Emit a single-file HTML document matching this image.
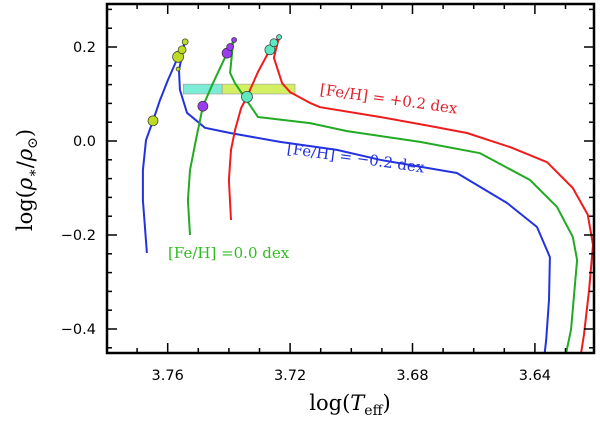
<!DOCTYPE html>
<html><head><meta charset="utf-8"><style>
body{margin:0;background:#fff;width:600px;height:423px;overflow:hidden}
svg{display:block}
.tk{font-family:"DejaVu Sans","Liberation Sans",sans-serif;font-size:14.5px;fill:#000}
.ser{font-family:"DejaVu Serif","Liberation Serif",serif}
</style></head><body>
<svg id="chart" width="600" height="423" viewBox="0 0 600 423">
<defs><clipPath id="clip"><rect x="107" y="4" width="487" height="349"/></clipPath></defs>
<g id="plot" clip-path="url(#clip)"></g>
<g id="axes"></g>
<text x="168" y="258" fill="#33bb22" font-size="15" class="ser">[Fe/H] =0.0 dex</text>
<text transform="translate(388,104) rotate(8)" text-anchor="middle" fill="#e0202a" font-size="15" class="ser">[Fe/H] = +0.2 dex</text>
<text transform="translate(355,163) rotate(8)" text-anchor="middle" fill="#2233dd" font-size="15" class="ser">[Fe/H] = −0.2 dex</text>
<text x="350" y="410" text-anchor="middle" font-size="21" class="ser">log(<tspan font-style="italic">T</tspan><tspan font-size="14" dy="5">eff</tspan><tspan dy="-5">)</tspan></text>
<text transform="translate(32,180) rotate(-90)" text-anchor="middle" font-size="21" class="ser">log(<tspan font-style="italic">ρ</tspan><tspan font-size="14" dy="5">∗</tspan><tspan dy="-5">/</tspan><tspan font-style="italic">ρ</tspan><tspan font-size="14" dy="5">⊙</tspan><tspan dy="-5">)</tspan></text>
</svg>
<script>
const xTicks=[3.76,3.72,3.68,3.64];
const yTicks=[0.2,0.0,-0.2,-0.4];
const xTickLabels=["3.76","3.72","3.68","3.64"];
const yTickLabels=["0.2","0.0","−0.2","−0.4"];
const blueT=[3.7668,3.7681,3.7681,3.7671,3.7648,3.7625,3.7599,3.7566,3.7553,3.7543,3.7547,3.7563,3.7560,3.7537,3.7478,3.7396,3.7233,3.7047,3.6906,3.6655,3.6491,3.6393,3.6351,3.6354,3.6363,3.6368];
const blueV=[-0.238,-0.126,-0.062,0.002,0.043,0.087,0.130,0.179,0.194,0.211,0.202,0.151,0.109,0.060,0.028,0.017,-0.002,-0.019,-0.040,-0.068,-0.132,-0.183,-0.247,-0.338,-0.423,-0.451];
const greenT=[3.7527,3.7534,3.7527,3.7508,3.7485,3.7455,3.7429,3.7406,3.7396,3.7383,3.7387,3.7396,3.7380,3.7305,3.7135,3.7014,3.6775,3.6579,3.6416,3.6328,3.6276,3.6262,3.6282,3.6298];
const greenV=[-0.200,-0.126,-0.062,0.002,0.074,0.119,0.155,0.187,0.200,0.215,0.206,0.145,0.123,0.051,0.038,0.021,-0.002,-0.026,-0.083,-0.140,-0.204,-0.253,-0.402,-0.451];
const redT=[3.7393,3.7400,3.7393,3.7380,3.7360,3.7341,3.7305,3.7266,3.7253,3.7233,3.7240,3.7253,3.7226,3.7200,3.7135,3.7102,3.6906,3.6743,3.6622,3.6481,3.6360,3.6276,3.6227,3.6210,3.6223,3.6240,3.6249];
const redV=[-0.168,-0.083,-0.019,0.023,0.070,0.094,0.147,0.194,0.209,0.223,0.211,0.177,0.123,0.104,0.081,0.072,0.051,0.032,0.017,-0.013,-0.045,-0.100,-0.157,-0.221,-0.317,-0.413,-0.451];
const blueMarkT=[3.7648,3.7566,3.7553,3.7543,3.7566];
const blueMarkV=[0.043,0.179,0.194,0.211,0.153];
const blueMarkR=[5,5.5,4,3,2];
const greenMarkT=[3.7485,3.7406,3.7396,3.7383];
const greenMarkV=[0.074,0.187,0.200,0.215];
const greenMarkR=[5,5,3.5,2.5];
const redMarkT=[3.7341,3.7266,3.7253,3.7236];
const redMarkV=[0.094,0.194,0.209,0.221];
const redMarkR=[5.5,5,4,2.5];
const boxT1=[3.7549,3.7422];
const boxT2=[3.7422,3.7184];
const boxV1=[0.121,0.121];
const boxV2=[0.100,0.100];

const NS="http://www.w3.org/2000/svg";
const L=107,R=594,T=4,B=353;
function sx(t){return 167.7+(3.76-t)*3060;}
function sy(v){return 141-v*470;}
const plot=document.getElementById('plot');
const axes=document.getElementById('axes');
function mk(tag,attrs,parent){const e=document.createElementNS(NS,tag);for(const k in attrs)e.setAttribute(k,attrs[k]);parent.appendChild(e);return e;}

const boxFill=["rgba(80,230,200,0.75)","rgba(200,235,60,0.8)"];
for(let i=0;i<2;i++){
  const x1=sx(boxT1[i]),x2=sx(boxT2[i]),y1=sy(boxV1[i]),y2=sy(boxV2[i]);
  const r=mk('rect',{x:Math.min(x1,x2),y:y1,width:Math.abs(x2-x1),height:y2-y1,fill:boxFill[i],stroke:"#999","stroke-width":0.6},plot);
  
  
}
function line(ts,vs,color,name){
  const d=ts.map((t,i)=>(i?'L':'M')+sx(t).toFixed(1)+' '+sy(vs[i]).toFixed(1)).join(' ');
  const p=mk('path',{d:d,fill:"none",stroke:color,"stroke-width":2,"stroke-linejoin":"round"},plot);
  
  
}
line(blueT,blueV,"#2233dd","track-feh-minus0.2");
line(greenT,greenV,"#22aa22","track-feh-0.0");
line(redT,redV,"#ee1c1c","track-feh-plus0.2");
function marks(ts,vs,rs,color,name){
  ts.forEach((t,i)=>{
    const c=mk('circle',{cx:sx(t),cy:sy(vs[i]),r:rs[i],fill:color,stroke:"#333","stroke-width":0.7},plot);
    
    
  });
}
marks(blueMarkT,blueMarkV,blueMarkR,"#bcdc24","marker-feh-minus0.2");
marks(greenMarkT,greenMarkV,greenMarkR,"#9a3cf0","marker-feh-0.0");
marks(redMarkT,redMarkV,redMarkR,"#5ee8c0","marker-feh-plus0.2");

const fr=mk('rect',{x:L,y:T,width:R-L,height:B-T,fill:"none",stroke:"#000","stroke-width":2.5},axes);


for(let k=0;k<=16;k++){
  const t=3.78-k*0.01; const x=sx(t); if(x<L+1||x>R-1) continue;
  const major=Math.abs(Math.round(t*100)%4)===0;
  const len=major?10:5;
  mk('line',{x1:x,x2:x,y1:B,y2:B-len,stroke:"#000","stroke-width":1.5},axes);
  mk('line',{x1:x,x2:x,y1:T,y2:T+len,stroke:"#000","stroke-width":1.5},axes);
}
xTicks.forEach((t,i)=>{
  const tx=mk('text',{x:sx(t),y:380,"text-anchor":"middle",class:"tk"},axes);
  tx.textContent=xTickLabels[i];
  
  
});
for(let k=-12;k<=8;k++){
  const v=k*0.04; const y=sy(v); if(y<T+1||y>B-1) continue;
  const major=k%5===0;
  const len=major?10:5;
  mk('line',{x1:L,x2:L+len,y1:y,y2:y,stroke:"#000","stroke-width":1.5},axes);
  mk('line',{x1:R,x2:R-len,y1:y,y2:y,stroke:"#000","stroke-width":1.5},axes);
}
yTicks.forEach((v,i)=>{
  const tx=mk('text',{x:96,y:sy(v)+5,"text-anchor":"end",class:"tk"},axes);
  tx.textContent=yTickLabels[i];
  
  
});
</script>
</body></html>
